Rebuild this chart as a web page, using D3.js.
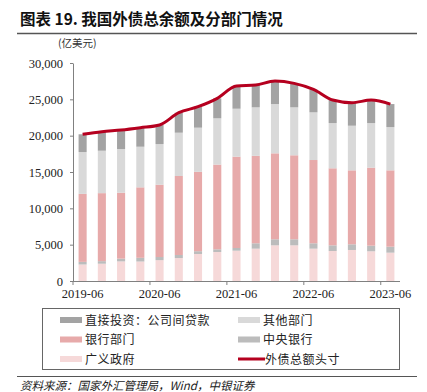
<!DOCTYPE html>
<html>
<head>
<meta charset="utf-8">
<script src="https://cdn.jsdelivr.net/npm/d3@7"></script>
<style>
  body { margin: 0; background: #fff; }
  svg { display: block; }
</style>
</head>
<body>
<svg id="chart" width="427" height="392"></svg>
<script>
// quarters, 亿美元
const quarters = ["2019-06", "2019-09", "2019-12", "2020-03", "2020-06", "2020-09", "2020-12", "2021-03",
    "2021-06", "2021-09", "2021-12", "2022-03", "2022-06", "2022-09", "2022-12", "2023-03", "2023-06"];
const tickLabels = ["2019-06", "2020-06", "2021-06", "2022-06", "2023-06"];

const government = [2270, 2380, 2700, 2680, 2870, 3160, 3720, 3990, 4170, 4450, 4910, 4910, 4450, 4130, 4270, 4090, 3900];
const centralBank = [360, 350, 380, 510, 430, 420, 380, 370, 370, 740, 830, 830, 740, 780, 780, 770, 820];
const banks = [9360, 9360, 9070, 9700, 9950, 10870, 10920, 11660, 12570, 12030, 11830, 11560, 11460, 10600, 10180, 10740, 10510];
const otherSectors = [5760, 5840, 6010, 5590, 5600, 5960, 6080, 6370, 6600, 6680, 6780, 6600, 6560, 6230, 6140, 6140, 5960];
const directInvest = [2440, 2615, 2620, 2620, 2620, 2750, 2885, 2750, 3120, 3070, 3170, 3300, 3160, 3160, 3170, 3160, 3160];
const totalDebt = [20190, 20545, 20778, 21097, 21466, 23160, 23985, 25140, 26830, 26970, 27520, 27200, 26370, 24900, 24540, 24900, 24350];

const yTicks = [0, 5000, 10000, 15000, 20000, 25000, 30000];

const series = [
    {key: "gov", name: "广义政府", values: government, color: "#f6d9d9"},
    {key: "cb", name: "中央银行", values: centralBank, color: "#bcbcbc"},
    {key: "bank", name: "银行部门", values: banks, color: "#e7aaaa"},
    {key: "other", name: "其他部门", values: otherSectors, color: "#d9d9d9"},
    {key: "direct", name: "直接投资：公司间贷款", values: directInvest, color: "#a3a3a3"}
];
const lineColor = "#b5001f";

const cjk = "'Noto Sans CJK SC', sans-serif";
const serif = "'Liberation Serif', 'DejaVu Serif', serif";

const svg = d3.select("#chart");

// title
svg.append("text")
    .attr("x", 20).attr("y", 25)
    .attr("font-family", cjk).attr("font-size", 15.5).attr("font-weight", "bold")
    .attr("fill", "#111")
    .text("图表 19. 我国外债总余额及分部门情况");
svg.append("line")
    .attr("x1", 17).attr("x2", 417).attr("y1", 33.5).attr("y2", 33.5)
    .attr("stroke", "#555").attr("stroke-width", 1.5);

svg.append("text")
    .attr("x", 58).attr("y", 47)
    .attr("font-family", cjk).attr("font-size", 10.5).attr("fill", "#333")
    .text("(亿美元)");

const x = d3.scaleBand()
    .domain(quarters)
    .range([73, 400])
    .paddingInner(0.58)
    .paddingOuter(0.29);

const y = d3.scaleLinear()
    .domain([0, 30000])
    .range([281, 63]);

// stacked bars
const table = quarters.map((q, i) => {
    let row = {q: q};
    series.forEach(s => row[s.key] = s.values[i]);
    return row;
});
const stack = d3.stack().keys(series.map(s => s.key));
const layers = stack(table);

svg.append("g").selectAll("g")
    .data(layers)
    .enter()
    .append("g")
    .attr("fill", (d, i) => series[i].color)
    .selectAll("rect")
    .data(d => d)
    .enter()
    .append("rect")
    .attr("x", d => x(d.data.q))
    .attr("width", x.bandwidth())
    .attr("y", d => y(d[1]))
    .attr("height", d => y(d[0]) - y(d[1]));

// y axis
const yAxis = svg.append("g")
    .attr("transform", "translate(73,0)")
    .call(d3.axisLeft(y).tickValues(yTicks).tickSize(3).tickSizeOuter(0).tickFormat(d3.format(",")));
yAxis.select(".domain").attr("stroke", "#808080");
yAxis.selectAll(".tick line").attr("stroke", "#808080");
yAxis.selectAll(".tick text")
    .attr("x", -10)
    .attr("font-family", serif).attr("font-size", 12.5).attr("fill", "#222");

// x axis (ticks between categories, labels on bars)
const step = x.step();
const gap = (step - x.bandwidth()) / 2;
const xAxis = svg.append("g");
xAxis.append("line")
    .attr("x1", 73).attr("x2", 400).attr("y1", 281.5).attr("y2", 281.5)
    .attr("stroke", "#808080");
xAxis.selectAll(".xt")
    .data(tickLabels)
    .enter()
    .append("line")
    .attr("class", "xt")
    .attr("x1", d => x(d) - gap).attr("x2", d => x(d) - gap)
    .attr("y1", 281.5).attr("y2", 285)
    .attr("stroke", "#808080");
xAxis.selectAll(".xl")
    .data(tickLabels)
    .enter()
    .append("text")
    .attr("class", "xl")
    .attr("x", d => x(d) + x.bandwidth() / 2)
    .attr("y", 298)
    .attr("text-anchor", "middle")
    .attr("font-family", serif).attr("font-size", 12.5).attr("fill", "#222")
    .text(d => d);

// total debt line
const line = d3.line()
    .x((d, i) => x(quarters[i]) + x.bandwidth() / 2)
    .y(d => y(d))
    .curve(d3.curveMonotoneX);
svg.append("path")
    .datum(totalDebt)
    .attr("d", line)
    .attr("fill", "none")
    .attr("stroke", lineColor)
    .attr("stroke-width", 3)
    .attr("stroke-linejoin", "round");

// legend
svg.append("rect")
    .attr("x", 42.5).attr("y", 308.5).attr("width", 357).attr("height", 61)
    .attr("fill", "none").attr("stroke", "#666");

const legendItems = [
    {name: "直接投资：公司间贷款", color: "#a3a3a3", col: 0, row: 0},
    {name: "其他部门", color: "#d9d9d9", col: 1, row: 0},
    {name: "银行部门", color: "#e7aaaa", col: 0, row: 1},
    {name: "中央银行", color: "#bcbcbc", col: 1, row: 1},
    {name: "广义政府", color: "#f6d9d9", col: 0, row: 2},
    {name: "外债总额头寸", color: lineColor, col: 1, row: 2, isLine: true}
];
const legend = svg.append("g").selectAll("g")
    .data(legendItems)
    .enter()
    .append("g")
    .attr("transform", d => `translate(${d.col ? 238 : 60},${320 + d.row * 19.5})`);
legend.append("rect")
    .attr("x", 0)
    .attr("y", d => d.isLine ? -1.5 : -3)
    .attr("width", d => d.isLine ? 27 : 22)
    .attr("height", d => d.isLine ? 3 : 6)
    .attr("fill", d => d.color);
legend.append("text")
    .attr("x", d => d.isLine ? 27 : 25)
    .attr("y", 4.5)
    .attr("font-family", cjk).attr("font-size", 12).attr("fill", "#222")
    .attr("letter-spacing", 0.5)
    .text(d => d.name);

// source
svg.append("line")
    .attr("x1", 17).attr("x2", 417).attr("y1", 376.5).attr("y2", 376.5)
    .attr("stroke", "#555").attr("stroke-width", 1);
svg.append("text")
    .attr("x", 20).attr("y", 390)
    .attr("font-family", cjk).attr("font-size", 11.5).attr("font-style", "italic")
    .attr("fill", "#222")
    .text("资料来源：国家外汇管理局，Wind，中银证券");
</script>
</body>
</html>
